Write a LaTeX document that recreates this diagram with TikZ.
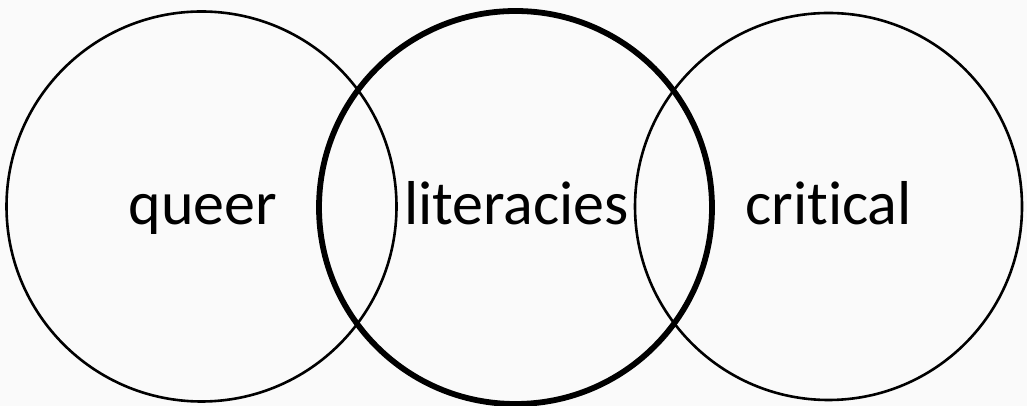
\documentclass[tikz,border=0pt]{standalone}
\usepackage{fontspec}
\setmainfont{Carlito}[Ligatures=NoCommon]
\usepackage{tikz}
\usetikzlibrary{positioning, calc}
\definecolor{vnInk}{RGB}{0,0,0}
\definecolor{vnPaper}{RGB}{250,250,250}

\begin{document}
\begin{tikzpicture}[x=1pt,y=1pt,
  ring/.style={circle,draw=vnInk,line width=2.6pt,inner sep=0pt,
               minimum size=390pt},
  ringbold/.style={ring,line width=5.8pt,minimum size=393pt},
  word/.style={font=\fontsize{62}{74}\selectfont,text=vnInk,
               anchor=base,inner sep=0pt}]

% ===== canvas =====
\fill[vnPaper] (0,0) rectangle (1027,406);
\useasboundingbox (0,0) rectangle (1027,406);

% ===== three rings =====
\node[ring]     (Q) at (201.5,199.5) {};
\node[ringbold] (L) at (515.5,198.5) {};
\node[ring,minimum size=387pt] (C) at (828.5,199.5) {};

% ===== labels =====
\node[word] (q) at (203,181) {queer};
\node[word] (l) at (516.5,181) {literacies};
\node[word] (c) at (828.5,181) {critical};
\end{tikzpicture}
\end{document}
